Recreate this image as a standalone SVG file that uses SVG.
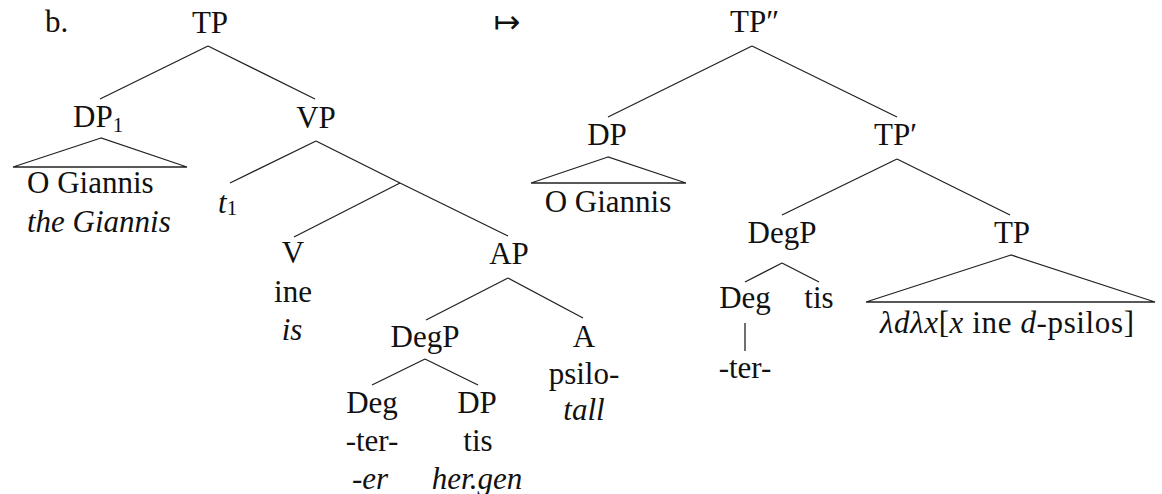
<svg xmlns="http://www.w3.org/2000/svg" width="1162" height="494" viewBox="0 0 1162 494">
<style>
text{font-family:'Liberation Serif','Times New Roman',serif;font-size:31px;fill:#111}
.m{text-anchor:middle}
.i{font-style:italic}
.sub{font-size:21px}
.e line,.e polygon{stroke:#222;stroke-width:1.3;fill:none}
</style>
<rect width="1162" height="494" fill="#fff"/>
<g id="label-b"><text x="45" y="32">b.</text></g>
<g id="mapsto"><text x="507" y="33" class="m" style="font-family:'DejaVu Sans',sans-serif;font-size:32px">↦</text></g>
<g class="e" id="connectors">
<line x1="208" y1="46" x2="100" y2="99"/>
<line x1="208" y1="46" x2="315" y2="99"/>
<polygon points="101,138 13,167 187,167"/>
<line x1="316" y1="141" x2="230" y2="183"/>
<line x1="316" y1="141" x2="400" y2="183"/>
<line x1="400" y1="183" x2="294" y2="237"/>
<line x1="400" y1="183" x2="508" y2="236"/>
<line x1="508" y1="278" x2="426" y2="320"/>
<line x1="508" y1="278" x2="583" y2="318"/>
<line x1="425" y1="359" x2="372" y2="385"/>
<line x1="425" y1="359" x2="478" y2="385"/>
<line x1="752" y1="46" x2="608" y2="117"/>
<line x1="752" y1="46" x2="897" y2="117"/>
<polygon points="608,157 531,183 686,183"/>
<line x1="897" y1="159" x2="782" y2="215"/>
<line x1="897" y1="159" x2="1010" y2="215"/>
<polygon points="1011,255 866,302 1155,302"/>
<line x1="782" y1="263" x2="745" y2="282"/>
<line x1="782" y1="263" x2="819" y2="282"/>
<line x1="745" y1="323" x2="745" y2="351"/>
</g>
<g id="L-TP"><text x="210" y="33" class="m">TP</text></g>
<g id="L-DP1"><text x="73" y="127">DP<tspan class="sub" dy="5">1</tspan></text></g>
<g id="L-DP1-leaf"><text x="27" y="193">O Giannis</text><text x="27" y="232" class="i">the Giannis</text></g>
<g id="L-VP"><text x="316" y="128" class="m">VP</text></g>
<g id="L-t1"><text x="218" y="213"><tspan class="i">t</tspan><tspan class="sub" dy="2">1</tspan></text></g>
<g id="L-V"><text x="293" y="263" class="m">V</text><text x="293" y="302" class="m">ine</text><text x="292" y="340" class="m i">is</text></g>
<g id="L-AP"><text x="509" y="264" class="m">AP</text></g>
<g id="L-DegP"><text x="425" y="347" class="m">DegP</text></g>
<g id="L-A"><text x="584" y="347" class="m">A</text><text x="584" y="384" class="m">psilo-</text><text x="584" y="420" class="m i">tall</text></g>
<g id="L-Deg"><text x="372" y="413" class="m">Deg</text><text x="372" y="451" class="m">-ter-</text><text x="370" y="489" class="m i">-er</text></g>
<g id="L-DP"><text x="477" y="413" class="m">DP</text><text x="478" y="451" class="m">tis</text><text x="477" y="489" class="m i">her.gen</text></g>
<g id="R-TP2"><text x="730" y="32">TP″</text></g>
<g id="R-DP"><text x="607" y="145" class="m">DP</text><text x="608" y="212" class="m">O Giannis</text></g>
<g id="R-TP1"><text x="874" y="145">TP′</text></g>
<g id="R-DegP"><text x="782" y="243" class="m">DegP</text></g>
<g id="R-TP"><text x="1012" y="243" class="m">TP</text><text x="880" y="333" textLength="254" lengthAdjust="spacing"><tspan class="i">λdλx</tspan>[<tspan class="i">x</tspan> ine <tspan class="i">d</tspan>-psilos]</text></g>
<g id="R-Deg"><text x="745" y="308" class="m">Deg</text><text x="745" y="378" class="m">-ter-</text></g>
<g id="R-tis"><text x="819" y="308" class="m">tis</text></g>
</svg>
